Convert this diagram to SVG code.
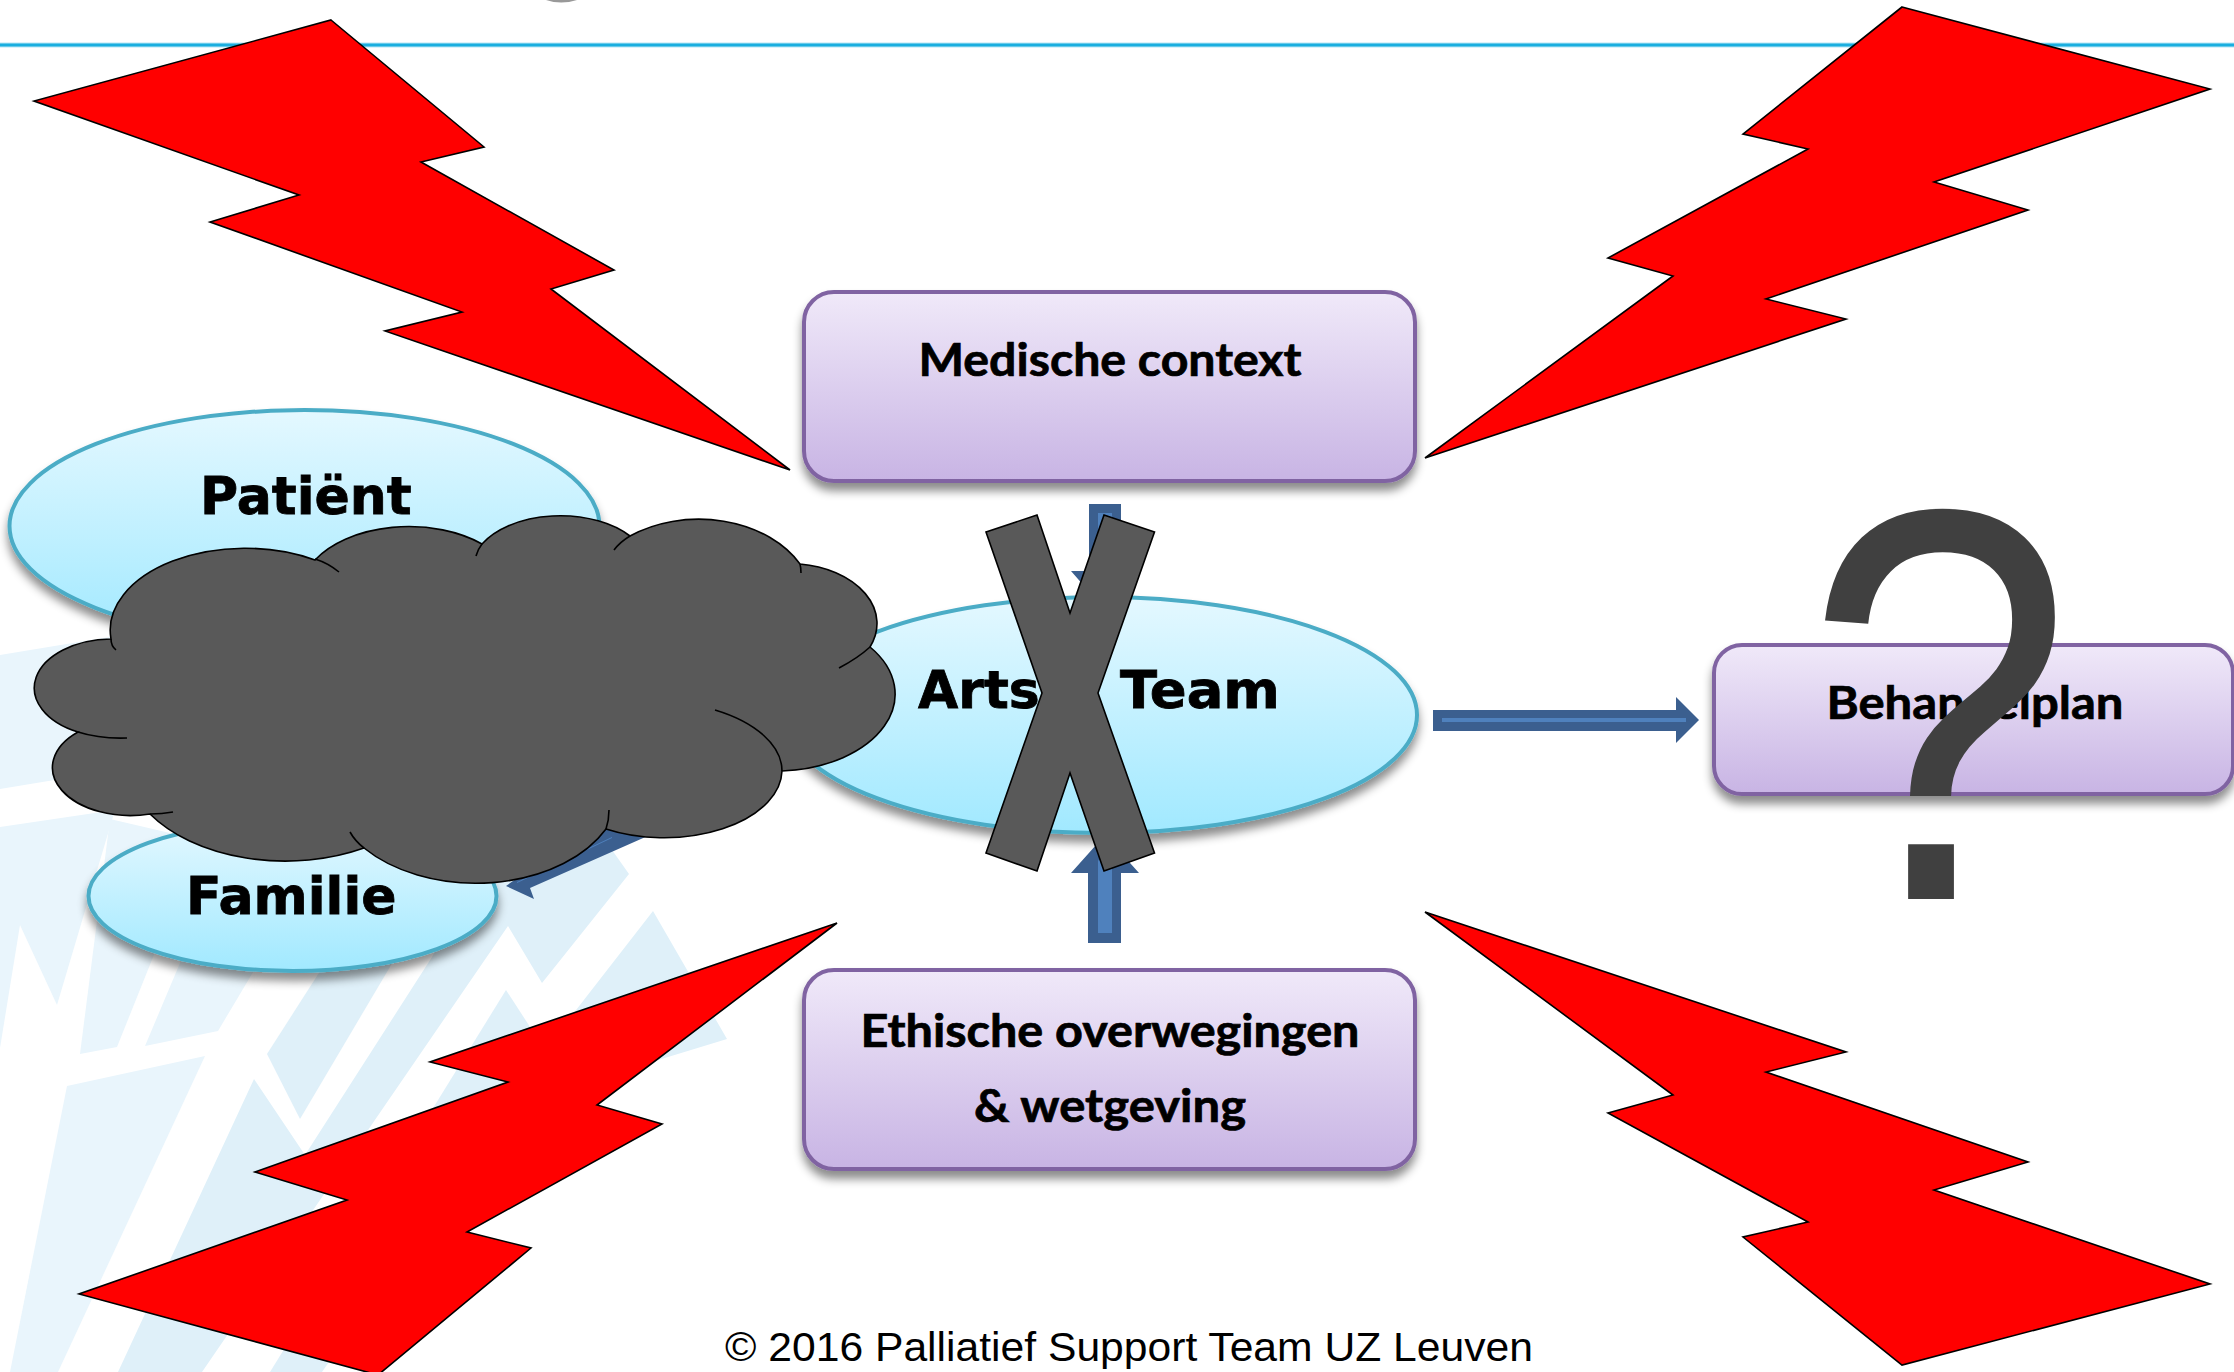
<svg xmlns="http://www.w3.org/2000/svg" width="2234" height="1372" viewBox="0 0 2234 1372">
<style>
.bolt{fill:#f00;stroke:#000;stroke-width:1.6;stroke-linejoin:miter}
.wl{fill:#e9f5fc}.wd{fill:#dff0f9}
.el{fill:url(#gE);stroke:#4bacc6;stroke-width:4;filter:url(#sh)}
.bx{fill:url(#gB);stroke:#8064a2;stroke-width:4;filter:url(#sh)}
.et{font-family:"DejaVu Sans",sans-serif;font-weight:700;font-size:52px;fill:#000;stroke:#000;stroke-width:.8px}
.bt{font-family:Lato,"Liberation Sans",sans-serif;font-weight:700;font-size:45px;fill:#000;stroke:#000;stroke-width:.7px;text-anchor:middle}
.ad{fill:#3b5f8f}.al{fill:#4f81bd}
</style>
<defs>
<linearGradient id="gE" x1="0" y1="0" x2="0" y2="1"><stop offset="0" stop-color="#e4f8ff"/><stop offset="1" stop-color="#a1e9ff"/></linearGradient>
<linearGradient id="gB" x1="0" y1="0" x2="0" y2="1"><stop offset="0" stop-color="#f0e9f9"/><stop offset="1" stop-color="#c8b4e4"/></linearGradient>
<filter id="sh" x="-10%" y="-15%" width="120%" height="135%"><feDropShadow dx="0" dy="8" stdDeviation="5" flood-color="#000" flood-opacity=".45"/></filter>
</defs>
<rect width="2234" height="1372" fill="#fff"/>
<g id="background">
<polygon class="wl" points="0,655 115,636 115,770 0,789"/>
<polygon class="wl" points="0,827 115,810 57,1005 20,925 0,1048"/>
<polygon class="wl" points="80,1054 117,1047 200,840 110,819"/>
<polygon class="wl" points="145,1046 218,1031 290,910 215,880"/>
<polygon class="wl" points="67,1086 205,1056 58,1372 10,1372"/>
<polygon class="wd" points="267,1054 340,940 400,950 300,1119"/>
<polygon class="wd" points="118,1372 254,1079 305,1155 432,957 470,880 600,833 629,874 542,983 508,926 202,1372"/>
<polygon class="wd" points="506,990 545,1050 322,1372 270,1372"/>
<polygon class="wd" points="545,1050 653,911 727,1039 560,1090 480,1200"/>
</g>
<g id="rule"><rect x="0" y="42.500" width="2234" height="5" fill="#b5e6f5"/><rect x="0" y="43.500" width="2234" height="3" fill="#1aaedf"/></g>
<path id="title-fragment" d="M546,0Q561,5 577,0Z" fill="#999"/>
<g id="connectors">
<g id="arrow-medische">
<polygon class="ad" points="1089,504 1121,504 1121,571 1139,571 1105,610 1071,571 1089,571"/>
<rect class="al" x="1098" y="513" width="14" height="60"/>
</g>
<g id="arrow-ethische">
<polygon class="ad" points="1088,943 1121,943 1121,873 1139,873 1105,835 1071,873 1088,873"/>
<polygon class="al" points="1098,933 1112,933 1112,861 1105,848 1098,861"/>
</g>
<g id="arrow-plan">
<polygon class="ad" points="1433,710 1676,710 1676,697 1699,720 1676,743 1676,731 1433,731"/>
<rect class="al" x="1442" y="718" width="244" height="4"/>
</g>
<g id="arrow-familie">
<polygon class="ad" points="506,886 534,899 530,888 650,835 630,815 560,850 540,862"/>
<polygon class="al" points="517,882 612,837 612,838 517,883"/>
</g>
</g>
<g id="node-medische"><rect class="bx" x="804" y="292" width="611" height="189" rx="30"/><text class="bt" x="1110" y="376" textLength="383" lengthAdjust="spacingAndGlyphs">Medische context</text></g>
<g id="node-ethische"><rect class="bx" x="804" y="970" width="611" height="199" rx="30"/><text class="bt" x="1110" y="1047" textLength="499" lengthAdjust="spacingAndGlyphs">Ethische overwegingen</text><text class="bt" x="1110" y="1122" textLength="272" lengthAdjust="spacingAndGlyphs">&amp; wetgeving</text></g>
<g id="node-plan"><rect class="bx" x="1714" y="645" width="519" height="149" rx="28"/><text class="bt" x="1975" y="719" textLength="297" lengthAdjust="spacingAndGlyphs">Behandelplan</text></g>
<g id="node-patient"><ellipse class="el" cx="304.500" cy="526" rx="295" ry="116"/><text class="et" x="200" y="514">Patiënt</text></g>
<g id="node-familie"><ellipse class="el" cx="292.500" cy="896" rx="204" ry="75"/><text class="et" x="186" y="914">Familie</text></g>
<g id="node-arts"><ellipse class="el" cx="1101" cy="715" rx="316" ry="118"/><text class="et" x="918" y="708">Arts</text><text class="et" x="1120" y="708" textLength="160" lengthAdjust="spacingAndGlyphs">Team</text></g>
<g id="bolts">
<polygon id="bolt-tl" class="bolt" points="331,20 484,147 421,162 614,270 551,289 790,470 385,331 462,312 210,222 299,195 34,101"/>
<polygon id="bolt-tr" class="bolt" points="1902,7 2210,89 1934,182 2028,210 1766,299 1846,319 1425,458 1673,276 1608,258 1808,149 1743,134"/>
<polygon id="bolt-bl" class="bolt" points="837,923 597,1105 662,1124 467,1232 531,1248 378,1375 79,1294 347,1200 255,1172 508,1082 430,1062"/>
<polygon id="bolt-br" class="bolt" points="1425,912 1846,1052 1766,1072 2028,1162 1934,1190 2210,1284 1902,1365 1743,1237 1808,1222 1608,1113 1673,1095"/>
</g>
<g id="cloud" fill="#595959" stroke="#000" stroke-width="1.600">
<path d="M111,639A135 82 0 0 1 315,560A108 66 0 0 1 482,544A88 52 0 0 1 630,536A115 85 0 0 1 800,564A88 60 0 0 1 870,647A120 77 0 0 1 782,771A118 68 0 0 1 606,829A145 97 0 0 1 364,848A160 101 0 0 1 150,814A78 48 0 0 1 78,732A78 49 0 0 1 111,639Z"/>
<path fill="none" d="M111,639Q111,646 116,650M315,559Q328,563 339,572M482,544Q478,549 476,556M630,536Q620,542 614,550M800,564Q801,568 801,573M870,647Q858,658 839,668M782,771C782,745 755,722 715,710M606,829Q609,820 609,810M364,848Q355,841 350,832M150,814Q162,814 173,812M78,732Q100,739 127,738"/>
</g>
<polygon id="cross" fill="#595959" stroke="#000" stroke-width="1.600" points="986,532 1037,515 1070,613 1104,515 1154.500,532 1098,693 1154.500,853 1104,871 1070,773 1037,871 986,853 1042,693"/>
<text id="question" transform="translate(1939,899) scale(.86,1)" text-anchor="middle" font-family="'Liberation Sans',sans-serif" font-size="559" fill="#404040">?</text>
<text id="footer" x="725" y="1361" font-family="'Liberation Sans',Arial,sans-serif" font-size="41" fill="#000" textLength="808" lengthAdjust="spacingAndGlyphs">© 2016 Palliatief Support Team UZ Leuven</text>
</svg>
